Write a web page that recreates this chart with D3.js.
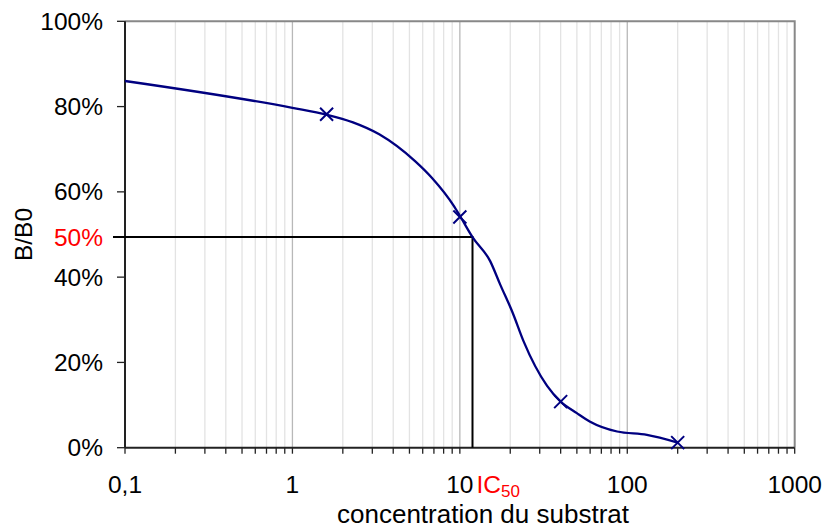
<!DOCTYPE html>
<html>
<head>
<meta charset="utf-8">
<script src="https://cdn.jsdelivr.net/npm/d3@7"></script>
<style>
  body { margin: 0; background: #fff; }
  text { font-family: "Liberation Sans", Arial, sans-serif; }
</style>
</head>
<body>
<svg id="chart" width="824" height="528"></svg>
<script>
// fitted curve
const curveX = [0.1, 1, 1.6, 2.3, 3.3, 5.4, 6.8, 9.2, 10.1, 11.9, 15.2, 17.4, 20.7, 24, 33.2, 40, 50, 60, 87, 131, 200];
const curveY = [0.86, 0.797, 0.781, 0.763, 0.735, 0.672, 0.633, 0.567, 0.541, 0.494, 0.437, 0.383, 0.316, 0.25, 0.145, 0.108, 0.081, 0.061, 0.038, 0.03, 0.012];

// measured points
const pointX = [1.6, 10, 40, 200];
const pointY = [0.782, 0.541, 0.108, 0.012];

// IC50
const ic50X = 11.9;
const ic50Y = 0.494;

const xTicks = [0.1, 1, 10, 100, 1000];
const xTickLabels = ["0,1", "1", "10", "100", "1000"];
const yTicks = [0, 0.2, 0.4, 0.6, 0.8, 1];
const yTickLabels = ["0%", "20%", "40%", "60%", "80%", "100%"];

const svg = d3.select("#chart");
const mLeft = 125, mRight = 794.7, mTop = 21.3, mBottom = 447.7;

const x = d3.scaleLog().domain([0.1, 1000]).range([mLeft, mRight]);
const y = d3.scaleLinear().domain([0, 1]).range([mBottom, mTop]);

// minor + major vertical grid
const minor = [];
[0.1, 1, 10, 100].forEach((d) => {
  for (let k = 2; k <= 9; k++) minor.push(d * k);
});

svg
  .append("g")
  .selectAll("line")
  .data(minor)
  .join("line")
  .attr("x1", (d) => x(d))
  .attr("x2", (d) => x(d))
  .attr("y1", mTop)
  .attr("y2", mBottom)
  .attr("stroke", "#e3e3e3")
  .attr("stroke-width", 1.3);

svg
  .append("g")
  .selectAll("line")
  .data([1, 10, 100])
  .join("line")
  .attr("x1", (d) => x(d))
  .attr("x2", (d) => x(d))
  .attr("y1", mTop)
  .attr("y2", mBottom)
  .attr("stroke", "#b8b8b8")
  .attr("stroke-width", 1.3);

// top + right border
svg
  .append("path")
  .attr("d", `M${mLeft},${mTop}H${mRight}V${mBottom}`)
  .attr("fill", "none")
  .attr("stroke", "#888")
  .attr("stroke-width", 2);

// x axis
const xAxis = svg.append("g").attr("transform", `translate(0,${mBottom})`);
xAxis
  .selectAll("line")
  .data(minor.concat(xTicks))
  .join("line")
  .attr("x1", (d) => x(d))
  .attr("x2", (d) => x(d))
  .attr("y1", 0)
  .attr("y2", 6)
  .attr("stroke", "#222")
  .attr("stroke-width", 1.3);
xAxis
  .selectAll("text")
  .data(xTicks)
  .join("text")
  .attr("x", (d) => x(d))
  .attr("y", 45)
  .attr("text-anchor", "middle")
  .style("font-size", "24.5px")
  .text((d, i) => xTickLabels[i]);
xAxis
  .append("line")
  .attr("x1", mLeft)
  .attr("x2", mRight)
  .attr("stroke", "#222")
  .attr("stroke-width", 2);

// y axis
const yAxis = svg.append("g").attr("transform", `translate(${mLeft},0)`);
yAxis
  .selectAll("line")
  .data(yTicks)
  .join("line")
  .attr("x1", -8)
  .attr("x2", 0)
  .attr("y1", (d) => y(d))
  .attr("y2", (d) => y(d))
  .attr("stroke", "#222")
  .attr("stroke-width", 1.3);
yAxis
  .selectAll("text")
  .data(yTicks)
  .join("text")
  .attr("x", -22)
  .attr("y", (d) => y(d))
  .attr("dy", "0.35em")
  .attr("text-anchor", "end")
  .style("font-size", "24.5px")
  .text((d, i) => yTickLabels[i]);
yAxis
  .append("line")
  .attr("y1", mTop)
  .attr("y2", mBottom)
  .attr("stroke", "#222")
  .attr("stroke-width", 2);

// IC50 guide lines
svg
  .append("path")
  .attr("d", `M${mLeft - 12},${y(ic50Y)}H${x(ic50X)}V${mBottom}`)
  .attr("fill", "none")
  .attr("stroke", "#000")
  .attr("stroke-width", 2);

svg
  .append("text")
  .attr("x", mLeft - 22)
  .attr("y", y(ic50Y))
  .attr("dy", "0.35em")
  .attr("text-anchor", "end")
  .attr("fill", "#ff0000")
  .style("font-size", "24.5px")
  .text("50%");

const icLabel = svg
  .append("text")
  .attr("x", x(ic50X) + 4)
  .attr("y", mBottom + 45)
  .attr("fill", "#ff0000")
  .style("font-size", "24.5px");
icLabel.append("tspan").text("IC");
icLabel.append("tspan").attr("dy", 4).style("font-size", "17px").text("50");

// curve
const line = d3
  .line()
  .curve(d3.curveMonotoneX)
  .x((d) => x(d[0]))
  .y((d) => y(d[1]));

svg
  .append("path")
  .datum(curveX.map((d, i) => [d, curveY[i]]))
  .attr("fill", "none")
  .attr("stroke", "#000080")
  .attr("stroke-width", 2.3)
  .attr("d", line);

// markers
const s = 6.5;
svg
  .append("g")
  .selectAll("path")
  .data(pointX.map((d, i) => [d, pointY[i]]))
  .join("path")
  .attr("transform", (d) => `translate(${x(d[0])},${y(d[1])})`)
  .attr("d", `M${-s},${-s}L${s},${s}M${-s},${s}L${s},${-s}`)
  .attr("stroke", "#000080")
  .attr("stroke-width", 2);

// axis titles
svg
  .append("text")
  .attr("x", 483)
  .attr("y", 523)
  .attr("text-anchor", "middle")
  .style("font-size", "26px")
  .text("concentration du substrat");

svg
  .append("text")
  .attr("transform", `translate(32,${y(0.5)}) rotate(-90)`)
  .attr("text-anchor", "middle")
  .style("font-size", "24.5px")
  .text("B/B0");
</script>
</body>
</html>
